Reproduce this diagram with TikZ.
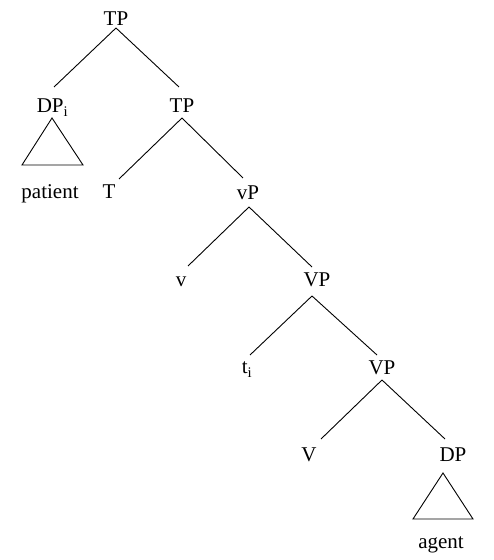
\documentclass[tikz,border=0pt]{standalone}
\usepackage{fontspec}
\setmainfont{Liberation Serif}
\begin{document}
\begin{tikzpicture}[x=1pt,y=1pt,
  lab/.style={anchor=base,inner sep=0pt,font=\fontsize{21}{25}\selectfont},
  br/.style={line width=0.9pt,black}]
\useasboundingbox (0,0) rectangle (494,560);
\node[lab] (TP0) at (116,534) {TP};
\node[lab] (DPi) at (52.5,447) {DP\textsubscript{i}};
\node[lab] (TP1) at (182,447) {TP};
\node[lab] (pat) at (50,361) {patient};
\node[lab] (T) at (109,361) {T};
\node[lab] (vP) at (248,360) {vP};
\node[lab] (v) at (181,273) {v};
\node[lab] (VP1) at (317,273) {VP};
\node[lab] (ti) at (247,186) {t\textsubscript{i}};
\node[lab] (VP2) at (382,185) {VP};
\node[lab] (V) at (309,98) {V};
\node[lab] (DP) at (453,98) {DP};
\node[lab] (agent) at (441,11) {agent};
% branches
\draw[br] ([shift={(0pt,-2pt)}]TP0.base) -- ([shift={(1.5pt,26pt)}]DPi.base);
\draw[br] ([shift={(0pt,-2pt)}]TP0.base) -- ([shift={(-3pt,26pt)}]TP1.base);
\draw[br] ([shift={(0pt,-5pt)}]TP1.base) -- ([shift={(10pt,20pt)}]T.base);
\draw[br] ([shift={(0pt,-5pt)}]TP1.base) -- ([shift={(-5pt,22pt)}]vP.base);
\draw[br] ([shift={(1pt,-7pt)}]vP.base) -- ([shift={(7pt,21pt)}]v.base);
\draw[br] ([shift={(1pt,-7pt)}]vP.base) -- ([shift={(-5pt,20pt)}]VP1.base);
\draw[br] ([shift={(-5pt,-9pt)}]VP1.base) -- ([shift={(3pt,19pt)}]ti.base);
\draw[br] ([shift={(-5pt,-9pt)}]VP1.base) -- ([shift={(-5pt,20pt)}]VP2.base);
\draw[br] ([shift={(0pt,-5pt)}]VP2.base) -- ([shift={(12pt,23pt)}]V.base);
\draw[br] ([shift={(0pt,-5pt)}]VP2.base) -- ([shift={(-8pt,23pt)}]DP.base);
% triangles
\draw[br,line join=miter] ([shift={(-0.5pt,-5pt)}]DPi.base) -- ([shift={(-30.5pt,-52pt)}]DPi.base) -- ([shift={(30.5pt,-52pt)}]DPi.base) -- cycle;
\draw[br,line join=miter] ([shift={(-10pt,-11pt)}]DP.base) -- ([shift={(-40pt,-57pt)}]DP.base) -- ([shift={(20pt,-57pt)}]DP.base) -- cycle;
\end{tikzpicture}
\end{document}
